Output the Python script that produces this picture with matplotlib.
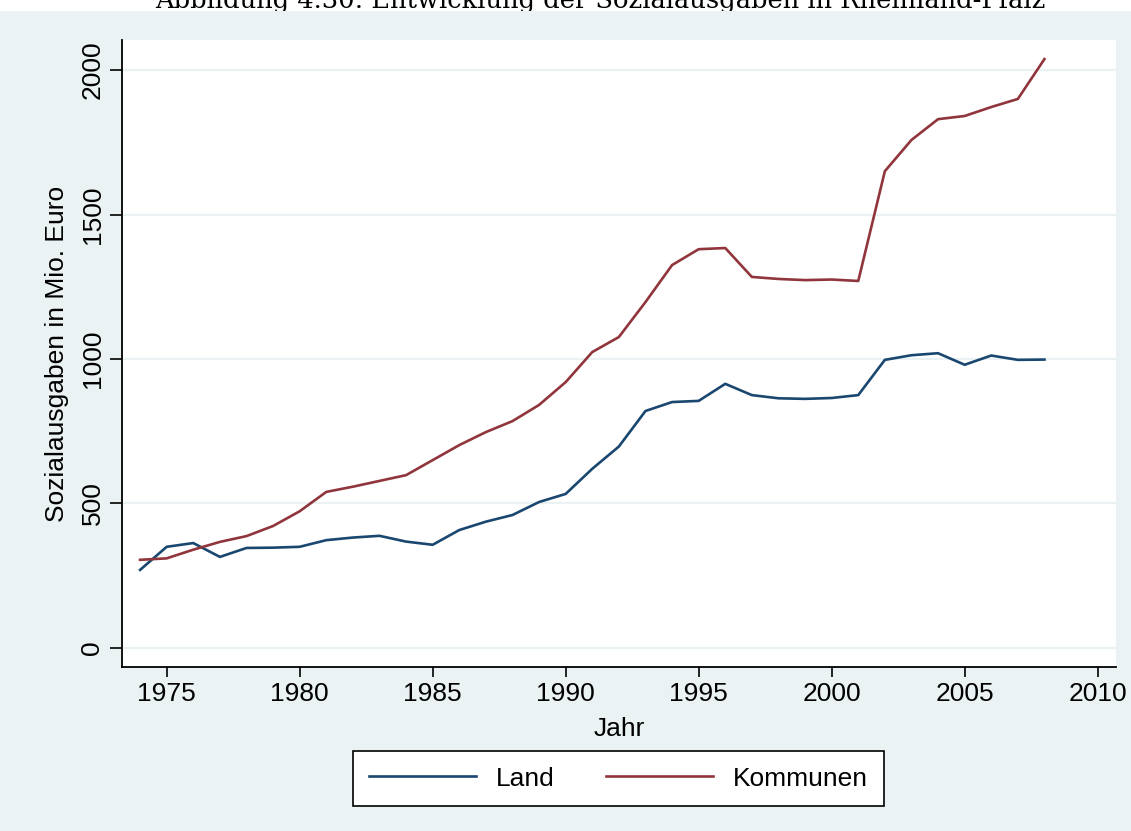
import matplotlib
matplotlib.use("Agg")
import matplotlib.pyplot as plt
from matplotlib.patches import Rectangle

years = list(range(1974, 2009))
land = [270, 350, 363, 315, 346, 347, 350, 373, 382, 388, 368, 357, 408, 437, 460,
        505, 533, 620, 697, 820, 851, 855, 914, 875, 864, 862, 865, 875, 997, 1013,
        1020, 980, 1012, 997, 998]
kommunen = [305, 310, 340, 367, 387, 422, 473, 540, 558, 578, 598, 650, 702, 747, 785,
            841, 920, 1024, 1076, 1197, 1325, 1380, 1384, 1284, 1277, 1273, 1275, 1270,
            1650, 1758, 1830, 1841, 1872, 1900, 2038]
xticks = [1975, 1980, 1985, 1990, 1995, 2000, 2005, 2010]
yticks = [0, 500, 1000, 1500, 2000]

BG = "#EAF2F3"
NAVY = "#1a476f"
MAROON = "#90353b"
W, H = 1131, 831

plt.rcParams['font.family'] = ['Liberation Sans', 'DejaVu Sans']

fig = plt.figure(figsize=(W / 100, H / 100), dpi=100, facecolor="white")

# title (partly cut off by the graph region, as in the reference)
fig.text(600 / W, 1 - 8 / H, "Abbildung 4.30: Entwicklung der Sozialausgaben in Rheinland-Pfalz",
         ha="center", va="baseline", fontsize=18.5, family="DejaVu Serif", zorder=3)
fig.patches.append(Rectangle((0, 0), 1, 1 - 11 / H, transform=fig.transFigure,
                             facecolor=BG, edgecolor="none", zorder=5))

ax = fig.add_axes([122 / W, 1 - 667 / H, (1116 - 122) / W, (667 - 40) / H])
ax.set_zorder(10)
ax.set_facecolor("white")

ax.plot(years, land, color=NAVY, lw=1.9, label="Land")
ax.plot(years, kommunen, color=MAROON, lw=1.9, label="Kommunen")

ax.set_xlim(1973.32, 2010.69)
ax.set_ylim(-66, 2104)
ax.set_xticks(xticks)
ax.set_yticks(yticks)
ax.set_yticklabels([str(v) for v in yticks], rotation=90, va="center")
ax.grid(axis="y", color=BG, lw=1.6)
ax.set_axisbelow(True)

for s in ["top", "right"]:
    ax.spines[s].set_visible(False)
for s in ["left", "bottom"]:
    ax.spines[s].set_linewidth(1.3)
ax.tick_params(axis="y", length=8.6, width=1.2, labelsize=19, pad=4)
ax.tick_params(axis="x", length=7, width=1.2, labelsize=19, pad=4)

ax.set_xlabel("Jahr", fontsize=19, labelpad=7.5)
ax.set_ylabel("Sozialausgaben in Mio. Euro", fontsize=19, labelpad=8)

leg = fig.legend(loc="center", bbox_to_anchor=(618.5 / W, 1 - 778.5 / H), ncol=2,
                 fontsize=19, frameon=True, fancybox=False, edgecolor="black",
                 framealpha=1, facecolor="white",
                 handlelength=4.05, handletextpad=0.75, columnspacing=1.95,
                 borderpad=0.6, borderaxespad=0)
leg.get_frame().set_linewidth(1.2)
leg.set_zorder(20)

fig.savefig("out.png", dpi=100, facecolor=fig.get_facecolor())
